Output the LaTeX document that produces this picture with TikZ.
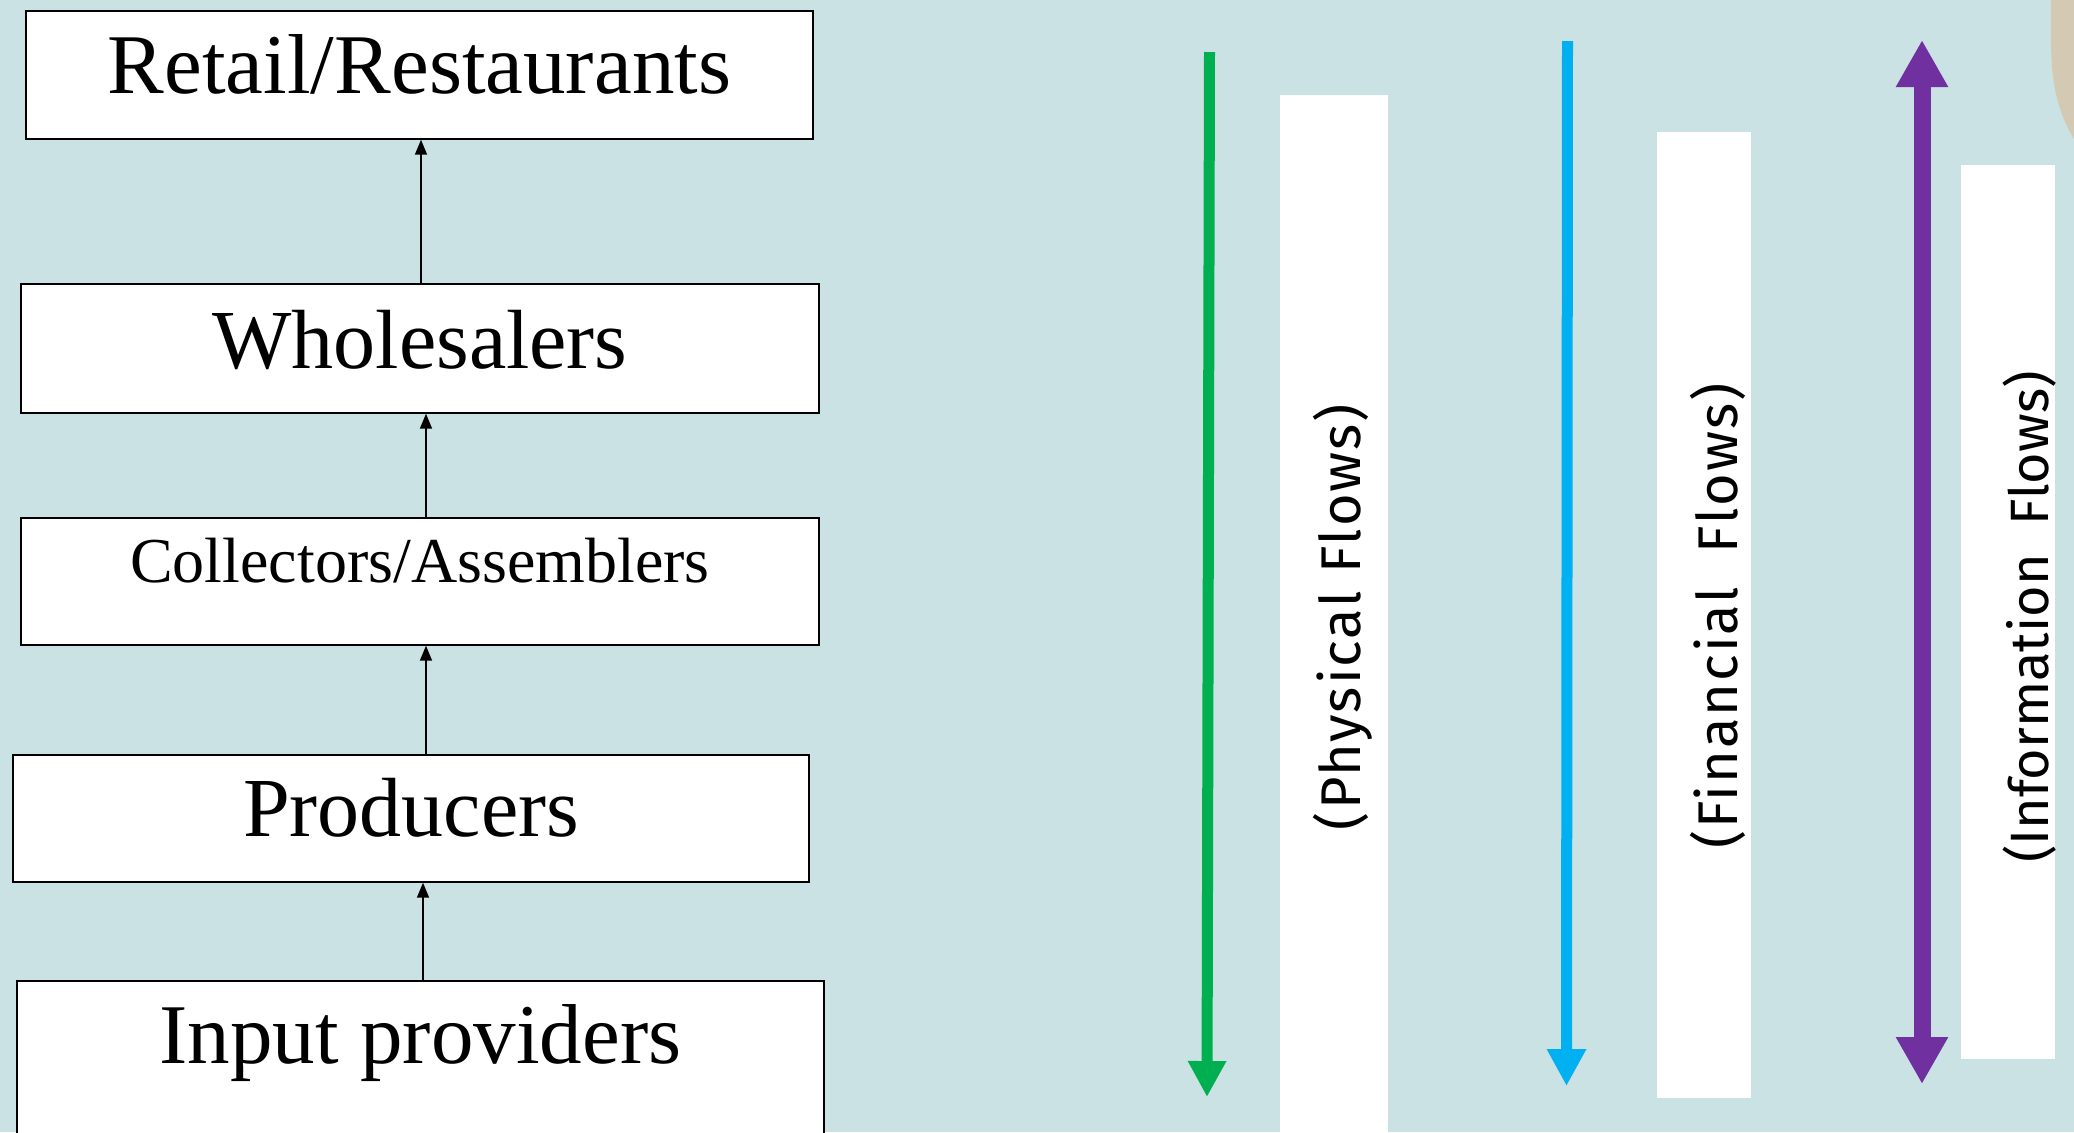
\documentclass[tikz,border=0pt]{standalone}
\usepackage{fontspec}
\setmainfont{Liberation Serif}
\newfontfamily\flowfont{Fira Sans}
\newfontfamily\flowfontwide{Fira Sans}[LetterSpace=3.5]
\usetikzlibrary{arrows.meta}

\definecolor{bgteal}{HTML}{CAE2E3}
\definecolor{sand}{HTML}{D4CAB3}
\definecolor{physgreen}{HTML}{00B050}
\definecolor{finblue}{HTML}{00B0F0}
\definecolor{infopurple}{HTML}{7030A0}

\tikzset{
  stage/.style={draw=black, line width=0.7pt, fill=white, inner xsep=0pt, inner ysep=0pt},
  chain/.style={draw=black, line width=0.8pt, -{Triangle[length=7.5pt,width=6pt]}},
  bar/.style={fill=white, draw=none, inner sep=0pt},
  flowlabel/.style={rotate=90, inner sep=0pt, font=\flowfontwide\fontsize{28pt}{33pt}\selectfont},
  bigfont/.style={font=\fontsize{42.5pt}{50pt}\selectfont},
  physflow/.style={draw=physgreen, line width=5.5pt, -{Triangle[length=18pt,width=18pt]}},
  finflow/.style={draw=finblue, line width=5.5pt, -{Triangle[length=18.5pt,width=18.5pt]}},
  infoflow/.style={draw=infopurple, line width=8.5pt,
    {Triangle[length=23.5pt,width=24.5pt]}-{Triangle[length=23.5pt,width=24.5pt]}}
}

\begin{document}
\begin{tikzpicture}[x=0.5pt, y=-0.5pt]
  % canvas
  \fill[bgteal] (0,0) rectangle (2074,1132);
  \useasboundingbox (0,0) rectangle (2074,1132);
  \clip (0,0) rectangle (2074,1132);

  % rounded sand-coloured shape in the upper right corner
  \fill[sand] (2051,-5) -- (2051,40) .. controls (2051,95) and (2062,122) .. (2082,152) -- (2082,-5) -- cycle;

  % supply chain stages
  \node[stage, bigfont, minimum width=393.5pt, text height=41pt, text depth=23pt]
    (R) at (419.5,75) {Retail/Restaurants};
  \node[stage, font=\fontsize{42pt}{50pt}\selectfont, minimum width=399pt, text height=42pt, text depth=22.5pt]
    (W) at (420,348.5) {Wholesalers};
  \node[stage, font=\fontsize{32pt}{38pt}\selectfont, minimum width=399pt, text height=32pt, text depth=31.5pt]
    (C) at (420,581.5) {Collectors/Assemblers};
  \node[stage, font=\fontsize{42pt}{50pt}\selectfont, minimum width=398pt, text height=40.5pt, text depth=23pt]
    (P) at (411,818.5) {Producers};
  \node[stage, bigfont, minimum width=403.5pt, text height=41pt, text depth=48.5pt]
    (I) at (420.5,1070.5) {Input providers};

  % vertical axes of the connectors
  \coordinate (axR) at (421,0);
  \coordinate (axW) at (426,0);
  \coordinate (axC) at (426,0);
  \coordinate (axP) at (423,0);

  \draw[chain] (W.north -| axR) -- (R.south -| axR);
  \draw[chain] (C.north -| axW) -- (W.south -| axW);
  \draw[chain] (P.north -| axC) -- (C.south -| axC);
  \draw[chain] (I.north -| axP) -- (P.south -| axP);

  % white label bars
  \node[bar, minimum width=54pt, minimum height=532.5pt] (b1) at (1334,627.5) {};
  \node[bar, minimum width=47pt, minimum height=483pt] (b2) at (1704,615) {};
  \node[bar, minimum width=47pt, minimum height=447pt] (b3) at (2008,612) {};

  \node[flowlabel] (t1) at (1343,617) {(Physical Flows)};
  \node[flowlabel] (t2) at (1718,616) {(Financial~~Flows)};
  \node[flowlabel, font=\flowfont\fontsize{27pt}{32pt}\selectfont] (t3) at (2030,617) {(Information~~Flows)};

  % flow arrows
  \coordinate (gTop) at (1209.5,52);
  \coordinate (gEnd) at (1207,1097);
  \coordinate (bTop) at (1567.5,41);
  \coordinate (bEnd) at (1566.5,1086);
  \coordinate (pTop) at (1922,40);
  \coordinate (pEnd) at (1922,1084);

  \draw[physflow] (gTop) -- (gEnd);
  \draw[finflow] (bTop) -- (bEnd);
  \draw[infoflow] (pTop) -- (pEnd);
\end{tikzpicture}
\end{document}
